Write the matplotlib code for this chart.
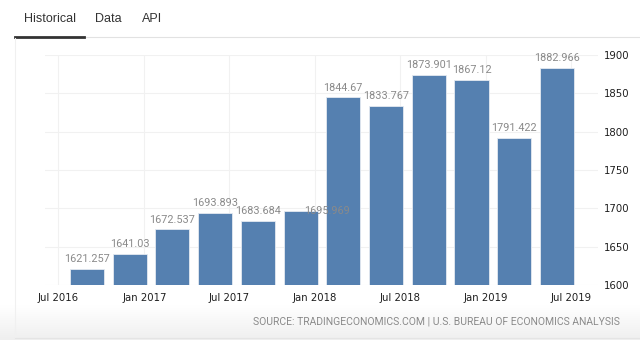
import matplotlib
matplotlib.use("Agg")
import matplotlib.pyplot as plt
import matplotlib.dates as mdates
import numpy as np
import pandas as pd
from matplotlib.lines import Line2D

# ---- data ----
quarters = ["2016-09-01", "2016-12-01", "2017-03-01", "2017-06-01",
            "2017-09-01", "2017-12-01", "2018-03-01", "2018-06-01",
            "2018-09-01", "2018-12-01", "2019-03-01", "2019-06-01"]
values = [1621.257, 1641.03, 1672.537, 1693.893, 1683.684, 1695.969,
          1844.67, 1833.767, 1873.901, 1867.12, 1791.422, 1882.966]
labels = ["1621.257", "1641.03", "1672.537", "1693.893", "1683.684", "1695.969",
          "1844.67", "1833.767", "1873.901", "1867.12", "1791.422", "1882.966"]
yticks = [1600, 1650, 1700, 1750, 1800, 1850, 1900]
xtick_dates = ["2016-07-01", "2017-01-01", "2017-07-01", "2018-01-01",
               "2018-07-01", "2019-01-01", "2019-07-01"]
xtick_labels = ["Jul 2016", "Jan 2017", "Jul 2017", "Jan 2018",
                "Jul 2018", "Jan 2019", "Jul 2019"]
tabs = ["Historical", "Data", "API"]
source = "SOURCE: TRADINGECONOMICS.COM | U.S. BUREAU OF ECONOMICS ANALYSIS"

W, H = 640, 340
fig = plt.figure(figsize=(W / 100, H / 100), dpi=100)
fig.patch.set_facecolor("white")

# bottom gradient band
bg = fig.add_axes([0, 0, 1, (H - 305) / H], zorder=0)
grad = np.linspace(0, 1, 50).reshape(-1, 1)
bg.imshow(grad, aspect="auto", cmap=matplotlib.colors.LinearSegmentedColormap.from_list(
    "g", ["#efefef", "#ffffff"]), extent=[0, 1, 0, 1], origin="lower")
bg.set_axis_off()

# chart axes
left, right, top, bottom = 45, 598, 55, 285
ax = fig.add_axes([left / W, (H - bottom) / H, (right - left) / W, (bottom - top) / H], zorder=2)
ax.patch.set_alpha(0)

x = mdates.date2num(pd.to_datetime(quarters))
ax.bar(x, [v - yticks[0] for v in values], bottom=yticks[0], width=73,
       color="#5580b0", edgecolor="#e4eaf1", linewidth=0.6, zorder=2)
for i, (xi, v, lab) in enumerate(zip(x, values, labels)):
    if i == 5:
        # this label is pushed sideways in the reference (no room above)
        off, va = (19, 0), "center"
    else:
        off, va = (0, 3.5), "bottom"
    ax.annotate(lab, (xi, v), xytext=off, textcoords="offset points",
                ha="center", va=va, fontsize=7.8, color="#8a8a8a",
                family="Roboto", zorder=3, annotation_clip=False)

ax.set_ylim(yticks[0], yticks[-1])
ax.set_xlim(mdates.date2num(pd.Timestamp("2016-06-03")),
            mdates.date2num(pd.Timestamp("2019-08-28")))
ax.set_yticks(yticks)
ax.yaxis.tick_right()
ax.set_xticks(mdates.date2num(pd.to_datetime(xtick_dates)))
ax.set_xticklabels(xtick_labels)
ax.tick_params(axis="both", length=0, labelsize=7.3, labelcolor="#1e1e1e")
ax.tick_params(axis="x", pad=6)
ax.tick_params(axis="y", pad=4)
ax.grid(True, color="#f1f1f1", linewidth=0.8, zorder=0)
ax.set_axisbelow(True)
for s in ax.spines.values():
    s.set_visible(False)

# tabs
tab_x = [24, 95, 142]
for t, tx in zip(tabs, tab_x):
    fig.text(tx / W, 1 - 19 / H, t, fontsize=9, family="Liberation Sans",
             color="#333333", ha="left", va="center")
fig.add_artist(Line2D([84 / W, 1], [1 - 37 / H] * 2, color="#e2e2e2", lw=0.8))
fig.add_artist(Line2D([15 / W, 84 / W], [1 - 36.7 / H] * 2, color="#333333", lw=2))
fig.add_artist(Line2D([15 / W, 15 / W], [1 - 38 / H, 2 / H], color="#f0f0f0", lw=0.8))
fig.add_artist(Line2D([15 / W, 1], [2 / H, 2 / H], color="#e4e4e4", lw=0.8))

fig.text(620 / W, 1 - 322 / H, source, fontsize=7.5, family="Roboto",
         color="#8a8a8a", ha="right", va="center")

fig.savefig("out.png", dpi=100)
